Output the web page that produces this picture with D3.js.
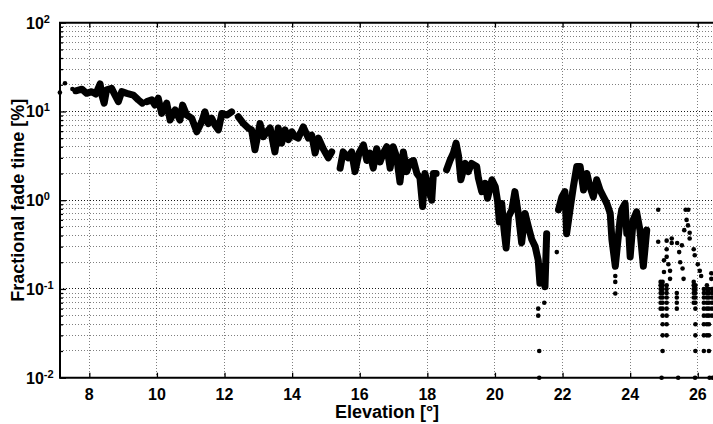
<!DOCTYPE html>
<html>
<head>
<meta charset="utf-8">
<script src="https://cdn.jsdelivr.net/npm/d3@7"></script>
<style>
  body { margin: 0; background: #fff; }
  svg { display: block; font-family: 'Liberation Sans', Arial, sans-serif; font-weight: bold; }
  .grid line { stroke: #000; stroke-dasharray: 1, 2; stroke-opacity: 0.5; shape-rendering: crispEdges; }
  .grid .major { stroke-opacity: 0.9; }
  .axis path { display: none; }
  .axis line { stroke: #000; stroke-width: 1.3; }
  .tick-label { font-size: 16px; fill: #000; }
  .axis-title { font-size: 18px; fill: #000; }
</style>
</head>
<body>
<div id="chart"></div>
<script>
// Axis ticks
const xTicks = [8, 10, 12, 14, 16, 18, 20, 22, 24, 26]
const yDecades = [0.01, 0.1, 1, 10, 100]
const yExponents = ['-2', '-1', '0', '1', '2']

// Dense trace of the fade-time cloud, null = gap in the record
const traceElev = [
  7.60, 7.78, 7.92, 8.07, 8.19, 8.32, 8.37, 8.44, 8.51, 8.66, 8.76, 8.86, 8.96, 9.11, 9.30, 9.45, 9.57, null,
  9.70, 9.85, 9.94, 10.04, 10.14, 10.29, 10.39, 10.54, 10.68, 10.76, 10.88, 11.03, 11.18, 11.33, 11.42, 11.52, 11.62, 11.72, 11.82, 11.92, 12.07, 12.21, null,
  12.41, 12.56, 12.70, 12.80, 12.90, 13.05, 13.15, 13.25, 13.35, 13.49, 13.59, 13.69, 13.79, 13.89, 13.99, 14.09, 14.18, 14.33, 14.48, 14.58, 14.68, 14.78, 14.92, 15.07, 15.17, null,
  15.42, 15.51, 15.66, 15.76, 15.86, 15.98, 16.11, 16.21, 16.30, 16.40, 16.50, 16.60, 16.70, 16.80, 16.90, 16.99, 17.09, 17.19, 17.29, 17.39, 17.49, 17.59, 17.69, 17.78, 17.86, 17.93, 18.03, 18.13, 18.18, 18.26, null,
  18.57, 18.67, 18.77, 18.85, 18.92, 18.99, 19.12, 19.21, 19.31, 19.46, 19.51, 19.61, 19.71, 19.78, 19.91, 20.01, 20.08, 20.13, 20.20, 20.27, 20.33, 20.40, 20.50, 20.59, 20.69, 20.79, 20.89, 20.99, 21.09, 21.19, 21.28, 21.33, 21.43, 21.48, 21.53, null,
  21.88, 21.98, 22.07, 22.12, 22.22, 22.32, 22.42, 22.52, 22.62, 22.72, 22.81, 22.91, 23.01, 23.11, 23.21, 23.31, 23.41, 23.46, 23.56, 23.65, 23.70, 23.75, 23.80, 23.85, 23.90, 23.95, 24.00, 24.09, 24.19, 24.29, 24.39, 24.49
]
const traceFade = [
  17.1, 17.8, 16.0, 16.7, 15.7, 20.4, 15.3, 12.4, 17.5, 18.2, 15.3, 12.9, 16.7, 16.0, 15.3, 13.5, 12.4, null,
  12.9, 13.5, 11.8, 14.1, 9.5, 12.4, 8.0, 10.4, 8.0, 11.8, 9.1, 8.4, 5.9, 7.7, 9.9, 7.3, 8.4, 7.0, 6.2, 9.5, 9.1, 9.9, null,
  8.7, 7.3, 6.5, 6.2, 3.7, 7.3, 5.2, 5.9, 6.5, 3.5, 6.5, 4.4, 6.2, 4.8, 5.9, 5.2, 5.0, 6.7, 5.0, 5.4, 3.4, 5.0, 3.8, 3.0, 3.5, null,
  2.3, 3.5, 3.0, 3.5, 2.1, 3.4, 4.2, 2.8, 3.4, 2.3, 3.8, 2.7, 3.4, 4.0, 2.3, 4.0, 3.1, 1.6, 3.5, 2.1, 2.7, 2.8, 2.0, 1.8, 0.85, 2.0, 1.36, 1.0, 2.0, 2.0, null,
  2.2, 2.8, 3.4, 4.4, 3.2, 1.7, 2.6, 2.1, 2.6, 2.4, 1.77, 1.25, 1.55, 1.05, 1.7, 1.42, 0.96, 0.57, 0.92, 0.46, 0.29, 0.65, 0.78, 1.25, 0.71, 0.33, 0.71, 0.50, 0.36, 0.30, 0.21, 0.116, 0.18, 0.106, 0.42, null,
  0.78, 1.09, 1.25, 0.42, 0.78, 1.42, 2.4, 2.4, 1.30, 2.0, 1.42, 1.09, 1.7, 1.30, 1.09, 0.92, 0.71, 0.36, 0.18, 0.39, 0.60, 0.78, 0.85, 0.92, 0.42, 0.50, 0.23, 0.60, 0.74, 0.46, 0.18, 0.46
]

// Isolated points
const dotElev = [
  7.13, 7.28, 7.50, 21.28, 21.46, 21.28, 21.31, 21.31, 21.83, 23.56, 23.56, 23.56,
  24.83, 24.83, 25.00, 25.00, 25.08, 25.08, 25.08, 25.23, 25.23, 25.18, 25.18, 25.13,
  25.39, 25.45, 25.48, 25.53, 25.58, 25.55, 25.60, 25.64, 25.72, 25.67, 25.71, 25.76, 25.76,
  25.88, 25.91, 26.00, 26.06, 26.10, 26.40, 26.40, 24.93, 25.42, 25.92, 26.35, 26.44
]
const dotFade = [
  16.3, 20.8, 17.9, 0.06, 0.07, 0.05, 0.02, 0.01, 0.26, 0.089, 0.12, 0.14,
  0.78, 0.34, 0.21, 0.155, 0.35, 0.28, 0.23, 0.37, 0.33, 0.16, 0.13, 0.19,
  0.33, 0.26, 0.20, 0.31, 0.13, 0.17, 0.46, 0.78, 0.78, 0.60, 0.52, 0.43, 0.37,
  0.28, 0.24, 0.19, 0.16, 0.14, 0.15, 0.13, 0.01, 0.01, 0.01, 0.01, 0.01
]

// Low fade-time columns (quantised levels) at high elevation
const binElev = [24.90, 24.96, 25.08, 25.38, 25.88, 25.93, 26.18, 26.27, 26.33, 26.42]
const binFade = [
  [0.12, 0.11, 0.1, 0.09, 0.08, 0.07, 0.06],
  [0.12, 0.11, 0.1, 0.09, 0.08, 0.07, 0.06, 0.05, 0.04, 0.03, 0.02],
  [0.11, 0.1, 0.09, 0.08, 0.07, 0.06, 0.05, 0.04, 0.03],
  [0.09, 0.08, 0.07, 0.06],
  [0.12, 0.11, 0.1, 0.09, 0.08, 0.07],
  [0.11, 0.1, 0.09, 0.08, 0.07, 0.06, 0.04, 0.03, 0.02],
  [0.1, 0.09, 0.08, 0.07, 0.06, 0.05, 0.04, 0.03, 0.02],
  [0.11, 0.1, 0.09, 0.08, 0.07, 0.06, 0.05, 0.04, 0.03],
  [0.1, 0.09, 0.08, 0.07, 0.06, 0.05, 0.04, 0.03, 0.02],
  [0.1, 0.09, 0.08, 0.07, 0.06, 0.05]
]

// Dimensions
const width = 713
const height = 424
const margin = { top: 22.7, right: -1, bottom: 46.3, left: 60 }
const innerWidth = width - margin.left - margin.right
const innerHeight = height - margin.top - margin.bottom

const svg = d3.select('#chart')
  .append('svg')
  .attr('width', width)
  .attr('height', height)

const g = svg.append('g')
  .attr('transform', `translate(${margin.left}, ${margin.top})`)

// Scales
const xScale = d3.scaleLinear().domain([7.133, 26.48]).range([0, innerWidth])
const yScale = d3.scaleLog().domain([0.01, 100]).range([innerHeight, 0])

// Minor log values 2..9 in each decade
const yMinor = []
yDecades.slice(0, -1).forEach(d => {
  for (let k = 2; k <= 9; k++) yMinor.push(d * k)
})

// Gridlines first so they sit beneath the data
const grid = g.append('g').attr('class', 'grid')
grid.selectAll('.vx')
  .data(xTicks)
  .join('line')
  .attr('x1', d => xScale(d)).attr('x2', d => xScale(d))
  .attr('y1', 0).attr('y2', innerHeight)
grid.selectAll('.hy')
  .data(yMinor)
  .join('line')
  .attr('x1', 0).attr('x2', innerWidth)
  .attr('y1', d => yScale(d)).attr('y2', d => yScale(d))
grid.selectAll('.hmaj')
  .data(yDecades.slice(1, -1))
  .join('line')
  .attr('class', 'major')
  .attr('x1', 0).attr('x2', innerWidth)
  .attr('y1', d => yScale(d)).attr('y2', d => yScale(d))

// Bottom and top x ticks, pointing inward
g.append('g')
  .attr('class', 'axis')
  .attr('transform', `translate(0, ${innerHeight})`)
  .call(d3.axisBottom(xScale).tickValues(xTicks).tickSize(-5).tickSizeOuter(0).tickFormat(''))
g.append('g')
  .attr('class', 'axis')
  .call(d3.axisTop(xScale).tickValues(xTicks).tickSize(-5).tickSizeOuter(0).tickFormat(''))

// Left y ticks: long at decades, short for minor
g.append('g')
  .attr('class', 'axis')
  .call(d3.axisLeft(yScale).tickValues(yDecades).tickSize(-6).tickSizeOuter(0).tickFormat(''))
g.append('g')
  .attr('class', 'axis')
  .call(d3.axisLeft(yScale).tickValues(yMinor).tickSize(-3).tickSizeOuter(0).tickFormat(''))

// Data: dense trace
const data = traceElev.map((e, i) => ({ e, f: traceFade[i] }))
const line = d3.line()
  .defined(d => d.e !== null)
  .x(d => xScale(d.e))
  .y(d => yScale(d.f))

g.append('path')
  .datum(data)
  .attr('d', line)
  .attr('fill', 'none')
  .attr('stroke', '#000')
  .attr('stroke-width', 7)
  .attr('stroke-linejoin', 'round')
  .attr('stroke-linecap', 'round')

// Data: isolated points and quantised columns
const dots = dotElev.map((e, i) => ({ e, f: dotFade[i] }))
binElev.forEach((e, i) => binFade[i].forEach(f => dots.push({ e, f })))

g.append('g')
  .selectAll('circle')
  .data(dots)
  .join('circle')
  .attr('cx', d => xScale(d.e))
  .attr('cy', d => yScale(d.f))
  .attr('r', 2.3)
  .attr('fill', '#000')

// Axes box
g.append('path')
  .attr('d', `M${innerWidth},0H0V${innerHeight}H${innerWidth}`)
  .attr('fill', 'none')
  .attr('stroke', '#000')
  .attr('stroke-width', 2)

// X tick labels
g.append('g')
  .selectAll('text')
  .data(xTicks)
  .join('text')
  .attr('class', 'tick-label')
  .attr('x', d => xScale(d))
  .attr('y', innerHeight + 22)
  .attr('text-anchor', 'middle')
  .text(d => d)

// Y tick labels 10^n
const yLab = g.append('g')
  .selectAll('text')
  .data(yDecades)
  .join('text')
  .attr('class', 'tick-label')
  .attr('x', -34)
  .attr('y', d => yScale(d) + 6)
yLab.append('tspan').text('10')
yLab.append('tspan')
  .attr('dy', -6)
  .style('font-size', '11px')
  .text((d, i) => yExponents[i])

// Axis titles
svg.append('text')
  .attr('class', 'axis-title')
  .attr('x', margin.left + innerWidth / 2)
  .attr('y', 418)
  .attr('text-anchor', 'middle')
  .text('Elevation [°]')

svg.append('text')
  .attr('class', 'axis-title')
  .attr('transform', `translate(24, ${margin.top + innerHeight / 2}) rotate(-90)`)
  .attr('text-anchor', 'middle')
  .text('Fractional fade time [%]')
</script>
</body>
</html>
